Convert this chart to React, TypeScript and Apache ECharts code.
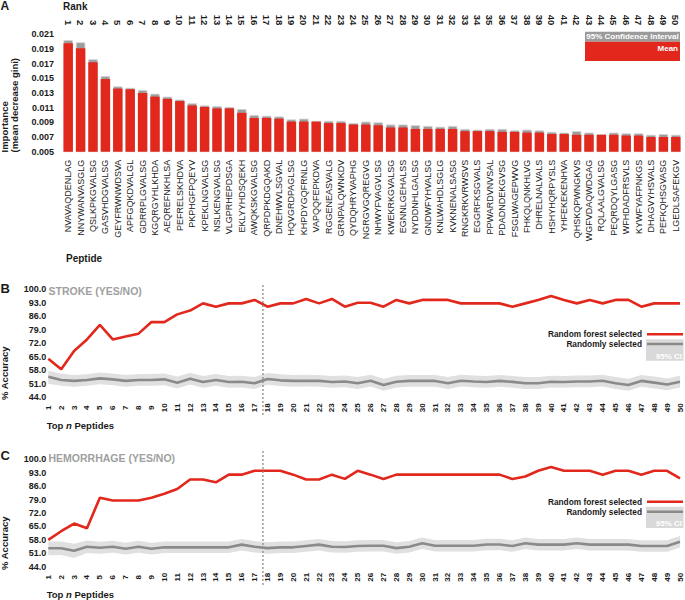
import React, { useEffect, useRef } from "react";
import * as echarts from "echarts";

const FONT = "'Liberation Sans', Arial, Helvetica, sans-serif";
const RED = "#e2271c";
const GRAY_LINE = "#8a8a8a";
const BAND = "#e0e0e0";
const DARK = "#1a1a1a";

const peptides = [
  "NVAVAQDENLAG", "NNYWANVASGLG", "QSLKPKGVALSG", "GASVHDGVALSG", "GEYFRWNWDSVA",
  "APFGQKDVALGL", "GDRRPLGVALSG", "KGQRGYHLKHDA", "AEQREFNKHLSA", "PEFRELSKHDVA",
  "PKPHGFPQEYV", "KPEKLNGVALSG", "NSLKENGVALSG", "VLGPRHEPDSGA", "EKLYYHDSQEKH",
  "AWQKSKGVALSG", "QRPDPKDGQAKD", "DNEHWVLSGVAL", "HQVGRDPAGLSG", "KHPDYGQFRNLG",
  "VAPQQFEPKDVA", "RGGENEASVALG", "GRNPALQWNKDV", "QYDQHRYVAPHG", "NGRGVGQREGVG",
  "NHWYFVAGVLSG", "KWEKRKGVALSG", "EGNNLGEHALSS", "NYDDNHLGALSG", "GNDWFYHVALSG",
  "KNLWAHDLSGLG", "KVKNENALSASG", "RNGKRKVRWSVS", "EGGRFKSGVALS", "PPWARDVNVSAL",
  "PDADNDEKGVSG", "FSGLWAGEPWVG", "FHKQLQNKHLVG", "DHRELNALVALS", "HSHYHQRPYSLS",
  "YHFEKEKENHVA", "QHSKQPWNGKVS", "WGFVDAQWDGAG", "RQLAALGVALSG", "PEQRDQYLGASG",
  "WFHDADFRSVLS", "KYWFYAFPNKGS", "DHAGVYHSVALS", "PEFKQHSGVASG", "LGEDLSAFEKGV",
];
const ranks = peptides.map((_, i) => String(i + 1));

const meanImportance = [
  0.01977, 0.0191, 0.0172, 0.0149, 0.0136, 0.0135, 0.013, 0.0125, 0.0122, 0.0119,
  0.0113, 0.0111, 0.0109, 0.0109, 0.0103, 0.0096, 0.0096, 0.0095, 0.0091, 0.0091,
  0.0091, 0.0089, 0.0089, 0.0087, 0.0087, 0.0086, 0.0083, 0.0083, 0.0081, 0.0081,
  0.0081, 0.0081, 0.0078, 0.0078, 0.0078, 0.0077, 0.0077, 0.0076, 0.0076, 0.0074,
  0.0074, 0.0073, 0.0073, 0.0073, 0.0073, 0.0072, 0.0072, 0.007, 0.007, 0.007,
];
const ciUpperImportance = [
  0.0202, 0.0199, 0.0176, 0.0153, 0.0139, 0.0137, 0.0134, 0.0129, 0.0125, 0.0121,
  0.0116, 0.0113, 0.0112, 0.0111, 0.0108, 0.01, 0.0099, 0.0098, 0.0094, 0.0095,
  0.0092, 0.0092, 0.0092, 0.0089, 0.0091, 0.009, 0.0087, 0.0087, 0.0086, 0.0085,
  0.0084, 0.0085, 0.0081, 0.008, 0.0081, 0.0081, 0.0079, 0.008, 0.0079, 0.0077,
  0.0076, 0.0078, 0.0076, 0.0074, 0.0076, 0.0075, 0.0075, 0.0073, 0.0074, 0.0073,
];
const importanceTicks = { min: 0.005, max: 0.021, step: 0.002 };

const topN = [
  "1", "2", "3", "4", "5", "6", "7", "8", "9", "10", "11", "12", "13", "14", "15", "16", "17", "18", "19", "20",
  "21", "22", "23", "24", "25", "26", "27", "28", "29", "30", "31", "32", "33", "34", "35", "36", "37", "38", "39", "40",
  "41", "42", "43", "44", "45", "46", "47", "48", "49", "50",
];
const accuracyTicks = { min: 44, max: 100, step: 7 };
const cutoffN = 17.65;

// Panel B: stroke
const strokeRF = [
  64, 58.5, 68, 74, 81.5, 74, 75.5, 77, 83, 83, 87, 89, 92.7, 91, 92.7, 92.7, 94.5, 91, 92.7, 92.7,
  95, 92.7, 95, 91, 93, 93, 91, 94.5, 92.7, 94.5, 94.5, 94.5, 92.7, 92.7, 92.7, 92.7, 91, 92.7, 94.5, 96.5,
  94.5, 92.7, 94.5, 92.7, 94.5, 94.5, 91, 92.7, 92.7, 92.7,
];
const strokeRandom = [
  54.7, 53.0, 52.5, 53.0, 53.8, 53.3, 52.5, 53.0, 53.0, 53.3, 51.6, 53.6, 51.9, 53.0, 51.9, 52.1, 51.3, 53.5, 52.8, 52.5,
  52.6, 52.5, 51.9, 52.2, 51.3, 52.6, 50.4, 52.1, 52.5, 52.5, 52.5, 51.3, 52.6, 52.2, 51.9, 52.5, 52.0, 51.3, 51.3, 52.1,
  51.9, 52.2, 52.2, 52.6, 51.3, 50.4, 52.5, 51.6, 50.6, 52.1,
];
const strokeRandomUpper = [
  57.8, 56.3, 55.6, 56.0, 56.9, 56.4, 55.6, 56.1, 56.1, 56.4, 54.8, 56.7, 55.1, 56.1, 55.1, 55.2, 54.5, 56.6, 55.9, 55.6,
  55.7, 55.6, 55.1, 55.3, 54.5, 55.7, 53.6, 55.2, 55.6, 55.6, 55.6, 54.5, 55.7, 55.3, 55.1, 55.6, 55.1, 54.5, 54.5, 55.2,
  55.1, 55.3, 55.3, 55.7, 54.5, 53.6, 55.6, 54.8, 53.8, 55.2,
];
const strokeRandomLower = [
  51.0, 50.0, 49.5, 50.0, 50.8, 50.3, 49.5, 50.0, 50.0, 50.3, 48.6, 50.6, 48.9, 50.0, 48.9, 49.1, 48.3, 50.5, 49.8, 49.5,
  49.6, 49.5, 48.9, 49.2, 48.3, 49.6, 47.4, 49.1, 49.5, 49.5, 49.5, 48.3, 49.6, 49.2, 48.9, 49.5, 49.0, 48.3, 48.3, 49.1,
  48.9, 49.2, 49.2, 49.6, 48.3, 47.4, 49.5, 48.6, 47.6, 49.1,
];

// Panel C: hemorrhage
const hemRF = [
  58, 62.5, 66.5, 64, 80, 78.5, 78.5, 78.5, 80, 82, 84.5, 89.5, 89.5, 88, 92, 92, 94, 94, 94, 92,
  89.5, 89.5, 92, 89.8, 94, 92, 89.7, 92, 92, 92, 92, 92, 92, 92, 92, 92, 89.7, 91, 94, 96,
  94, 94, 94, 92, 94, 94, 92, 94, 94, 90,
];
const hemRandom = [
  53.6, 53.6, 52.3, 54.4, 53.9, 54.4, 53.4, 54.4, 53.4, 54.1, 54.1, 54.1, 54.1, 54.1, 54.1, 55.5, 54.4, 53.7, 54.1, 54.1,
  54.8, 55.5, 54.4, 54.3, 54.8, 54.9, 54.9, 53.7, 54.4, 56.2, 54.9, 54.9, 54.9, 54.9, 55.6, 55.6, 54.8, 56.2, 55.5, 55.5,
  55.5, 56.2, 55.5, 55.5, 55.5, 55.5, 54.8, 54.8, 54.8, 57.0,
];
const hemRandomUpper = [
  57.2, 57.1, 56.0, 57.6, 57.0, 57.5, 56.5, 57.5, 56.5, 57.1, 57.1, 57.1, 57.1, 57.1, 57.1, 58.5, 57.4, 56.7, 57.1, 57.1,
  57.8, 58.5, 57.4, 57.3, 57.8, 57.9, 57.9, 56.7, 57.4, 59.2, 57.9, 57.9, 57.9, 57.9, 58.6, 58.6, 57.8, 59.2, 58.5, 58.5,
  58.5, 59.2, 58.5, 58.5, 58.5, 58.5, 57.8, 57.8, 57.8, 60.0,
];
const hemRandomLower = [
  50.0, 50.1, 48.6, 51.2, 50.8, 51.3, 50.3, 51.3, 50.3, 51.1, 51.1, 51.1, 51.1, 51.1, 51.1, 52.5, 51.4, 50.7, 51.1, 51.1,
  51.8, 52.5, 51.4, 51.3, 51.8, 51.9, 51.9, 50.7, 51.4, 53.2, 51.9, 51.9, 51.9, 51.9, 52.6, 52.6, 51.8, 53.2, 52.5, 52.5,
  52.5, 53.2, 52.5, 52.5, 52.5, 52.5, 51.8, 51.8, 51.8, 54.0,
];

function txt(
  text: string,
  x: number,
  y: number,
  o: { size?: number; weight?: string; color?: string; align?: string; rotation?: number } = {}
) {
  const align = o.align || "left";
  return {
    type: "text",
    x,
    y,
    rotation: o.rotation || 0,
    silent: true,
    z: 100,
    style: {
      text,
      fill: o.color || DARK,
      fontSize: o.size || 9,
      fontWeight: o.weight || "bold",
      fontFamily: FONT,
      textAlign: align,
      align,
      textVerticalAlign: "middle",
      verticalAlign: "middle",
    },
  };
}

function topNLabel(x: number, y: number) {
  const base = { fontSize: 9.5, fontWeight: "bold", fontFamily: FONT, fill: DARK, color: DARK };
  return {
    type: "text",
    x,
    y,
    silent: true,
    z: 100,
    style: {
      text: "{a|Top }{b|n}{a| Peptides}",
      textAlign: "left",
      align: "left",
      textVerticalAlign: "middle",
      verticalAlign: "middle",
      rich: { a: base, b: { ...base, fontStyle: "italic" } },
    },
  };
}

function rect(x: number, y: number, w: number, h: number, fill: string) {
  return { type: "rect", silent: true, z: 90, shape: { x, y, width: w, height: h }, style: { fill } };
}
function hline(x1: number, x2: number, y: number, stroke: string, w: number) {
  return { type: "line", silent: true, z: 95, shape: { x1, y1: y, x2, y2: y }, style: { stroke, lineWidth: w } };
}

export default function App() {
  const ref = useRef<HTMLDivElement>(null);

  useEffect(() => {
    const chart = echarts.init(ref.current as HTMLDivElement, null, { renderer: "svg" });
    const diff = (u: number[], l: number[]) => u.map((v, i) => +(v - l[i]).toFixed(3));

    const lineXAxis = (gridIndex: number) => ({
      type: "category",
      gridIndex,
      data: topN,
      boundaryGap: false,
      axisLine: { show: false },
      axisTick: { show: false },
      splitLine: { show: false },
      axisLabel: {
        interval: 0,
        rotate: 90,
        align: "center",
        verticalAlign: "middle",
        margin: 10.5,
        fontSize: 8,
        fontWeight: "bold",
        color: DARK,
        fontFamily: FONT,
      },
    });
    const lineYAxis = (gridIndex: number) => ({
      type: "value",
      gridIndex,
      min: accuracyTicks.min,
      max: accuracyTicks.max,
      interval: accuracyTicks.step,
      axisLine: { show: false },
      axisTick: { show: false },
      splitLine: { show: false },
      axisLabel: {
        margin: 2,
        fontSize: 9,
        fontWeight: "bold",
        color: DARK,
        fontFamily: FONT,
        formatter: (v: number) => v.toFixed(1),
      },
    });

    const bandSeries = (id: string, xi: number, yi: number, lower: number[], upper: number[]) => [
      {
        type: "line",
        name: id + "-lower",
        stack: id,
        xAxisIndex: xi,
        yAxisIndex: yi,
        data: lower,
        symbol: "none",
        silent: true,
        lineStyle: { opacity: 0 },
        z: 1,
      },
      {
        type: "line",
        name: id + "-band",
        stack: id,
        xAxisIndex: xi,
        yAxisIndex: yi,
        data: diff(upper, lower),
        symbol: "none",
        silent: true,
        lineStyle: { opacity: 0 },
        areaStyle: { color: BAND, opacity: 1 },
        z: 1,
      },
    ];
    const lineSeries = (name: string, xi: number, yi: number, data: number[], color: string) => ({
      type: "line",
      name,
      xAxisIndex: xi,
      yAxisIndex: yi,
      data,
      symbol: "none",
      silent: true,
      lineStyle: { color, width: 2.6 },
      z: 3,
    });

    const option: any = {
      animation: false,
      textStyle: { fontFamily: FONT },
      grid: [
        { left: 62, right: 3, top: 34.3, height: 117.4 },
        { left: 48.3, right: 5, top: 289.3, height: 108 },
        { left: 48.3, right: 5, top: 459.3, height: 107.4 },
      ],
      xAxis: [
        {
          type: "category",
          gridIndex: 0,
          data: peptides,
          axisLine: { show: false },
          axisTick: { show: false },
          axisLabel: {
            interval: 0,
            rotate: 90,
            margin: 8,
            fontSize: 9,
            color: DARK,
            fontFamily: FONT,
          },
        },
        {
          type: "category",
          gridIndex: 0,
          position: "top",
          data: ranks,
          axisLine: { show: false },
          axisTick: { show: false },
          axisLabel: {
            interval: 0,
            rotate: 90,
            margin: 9,
            fontSize: 9.5,
            fontWeight: "bold",
            color: DARK,
            fontFamily: FONT,
          },
        },
        lineXAxis(1),
        lineXAxis(2),
      ],
      yAxis: [
        {
          type: "value",
          gridIndex: 0,
          min: importanceTicks.min,
          max: importanceTicks.max,
          interval: importanceTicks.step,
          axisLine: { show: false },
          axisTick: { show: false },
          splitLine: { show: false },
          axisLabel: {
            margin: 8,
            fontSize: 9,
            fontWeight: "bold",
            color: DARK,
            fontFamily: FONT,
            formatter: (v: number) => v.toFixed(3),
          },
        },
        lineYAxis(1),
        lineYAxis(2),
      ],
      series: [
        {
          type: "bar",
          name: "95% Confidence Interval",
          xAxisIndex: 0,
          yAxisIndex: 0,
          data: ciUpperImportance,
          barWidth: "76%",
          barGap: "-100%",
          clip: true,
          silent: true,
          itemStyle: { color: "#9c9c9c", borderColor: "#d2d2d2", borderWidth: 0.8 },
        },
        {
          type: "bar",
          name: "Mean",
          xAxisIndex: 0,
          yAxisIndex: 0,
          data: meanImportance,
          barWidth: "76%",
          barGap: "-100%",
          clip: true,
          silent: true,
          itemStyle: { color: RED },
        },
        ...bandSeries("bandB", 2, 1, strokeRandomLower, strokeRandomUpper),
        lineSeries("Randomly selected", 2, 1, strokeRandom, GRAY_LINE),
        lineSeries("Random forest selected", 2, 1, strokeRF, RED),
        ...bandSeries("bandC", 3, 2, hemRandomLower, hemRandomUpper),
        lineSeries("Randomly selected C", 3, 2, hemRandom, GRAY_LINE),
        lineSeries("Random forest selected C", 3, 2, hemRF, RED),
      ],
    };
    chart.setOption(option);

    const cutAt = (axis: number) => {
      const i = Math.floor(cutoffN) - 1;
      const a = chart.convertToPixel({ xAxisIndex: axis }, i) as number;
      const b = chart.convertToPixel({ xAxisIndex: axis }, i + 1) as number;
      return a + (cutoffN - Math.floor(cutoffN)) * (b - a);
    };
    const cutB = cutAt(2);
    const cutC = cutAt(3);
    const dashed = (x: number, y1: number, y2: number) => ({
      type: "line",
      silent: true,
      z: 50,
      shape: { x1: x, y1, x2: x, y2 },
      style: { stroke: "#8c8c8c", lineWidth: 1.3, lineDash: [2, 2] },
    });

    const legendLines = (yRed: number, yGray: number, boxTop: number, ciY: number) => [
      rect(646, boxTop, 37.5, 21.4, "#d9d9d9"),
      hline(647, 683, yRed, RED, 2.6),
      hline(647, 683, yGray, GRAY_LINE, 2.6),
      txt("Random forest selected", 642, yRed, { size: 8.3, align: "right" }),
      txt("Randomly selected", 642, yGray, { size: 8.3, align: "right" }),
      txt("95% CI", 682, ciY, { size: 8, align: "right", color: "#ffffff" }),
    ];

    chart.setOption({
      graphic: [
        // Panel A
        txt("A", 0.5, 6.3, { size: 12 }),
        txt("Rank", 63, 6.7, { size: 10 }),
        txt("Importance", 4.2, 152.5, { size: 9.5, rotation: Math.PI / 2 }),
        txt("(mean decrease gini)", 14.2, 152.5, { size: 9.5, rotation: Math.PI / 2 }),
        txt("Peptide", 66, 258.5, { size: 10 }),
        rect(585, 31.7, 95, 10, "#9b9b9b"),
        rect(585, 41.7, 95, 19.3, RED),
        txt("95% Confidence Interval", 632.5, 36.9, { size: 8, align: "center", color: "#ffffff" }),
        txt("Mean", 678, 48.3, { size: 8, align: "right", color: "#ffffff" }),
        // Panel B
        txt("B", 0.5, 288.5, { size: 13 }),
        txt("STROKE (YES/NO)", 48.5, 291, { size: 10.5, color: "#a0a0a0" }),
        txt("% Accuracy", 4.5, 400, { size: 9.5, rotation: Math.PI / 2 }),
        topNLabel(46.7, 425),
        dashed(cutB, 285, 417),
        ...legendLines(334.3, 344, 339.3, 356),
        // Panel C
        txt("C", 0.5, 455.5, { size: 13 }),
        txt("HEMORRHAGE (YES/NO)", 48.5, 458, { size: 10.5, color: "#a0a0a0" }),
        txt("% Accuracy", 4.5, 570, { size: 9.5, rotation: Math.PI / 2 }),
        topNLabel(46.7, 594.3),
        dashed(cutC, 451, 587),
        ...legendLines(501.7, 511.7, 506.7, 523.3),
      ],
    });

    return () => chart.dispose();
  }, []);

  return (
    <div
      ref={ref}
      style={{ position: "absolute", left: 0, top: 0, width: 685, height: 600, background: "#ffffff" }}
    />
  );
}
